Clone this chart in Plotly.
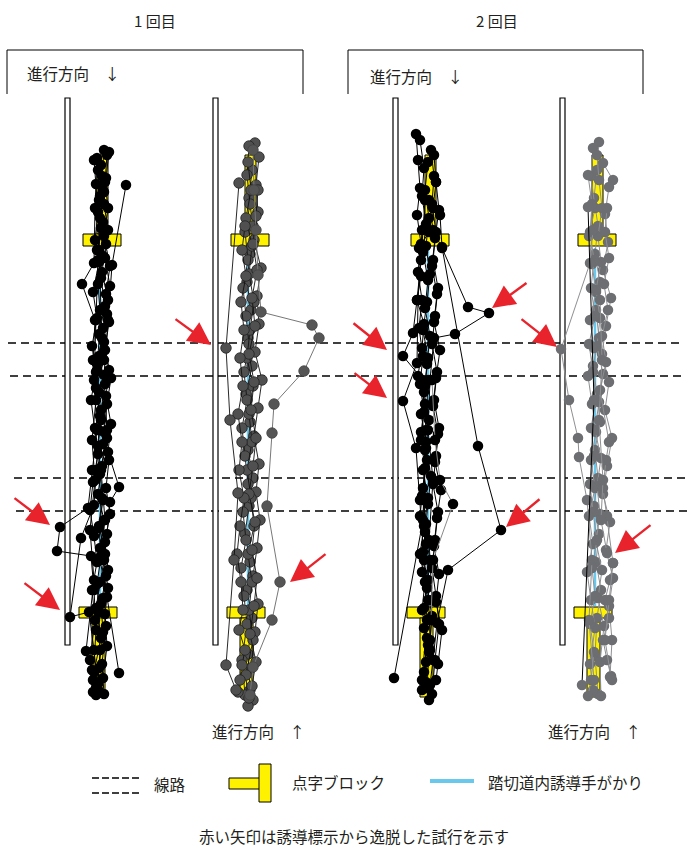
import plotly.graph_objects as go

W, H = 693, 849
FONT = "Noto Sans CJK JP"

# ---------------- data: walking trajectories (lateral offset from block centre, along-track position) -------------
p1a_x = [
    [2, 0, -3, -1, 1, -4, -2, 0, -5, -3, -1, -4, -2, 1, -3, -1, -5, -3, -2, -4],
    [-8, -6, -4, -7, -3, -9, -5, -10, -6, -11, -7, -4, -9, -12, -8, -5, -10, -7, -12, -9],
    [5, 3, 6, 2, 8, 4, 7, 3, 9, 5, 2, 7, 4, 8, 3, 6, 1, 4, 0, 2],
    [-1, 2, -2, 4, 0, 6, 1, -3, 3, -1, 5, 0, -4, 2, -2, 4, -1, 1, -3, -6],
    [-4, -2, 1, -5, -1, 3, -3, 2, -6, -2, 1, -5, 0, -3, 3, -2, -6, -1, -8, -4],
    [7, 4, 2, 6, 3, 8, 5, 2, 7, 4, 9, 6, 17, 8, 5, 2, 6, 3, 5, 1],
    [24, 10, 6, 2, 5, -1, 3, -2, 5, 17],
    [-5, -7, -8, -20, -7, -9, -6, -10, -7, -12, -8, -16, -10, -6],
    [-2, -4, -6, -8, -5, -10, -14, -42, -45, -11, -8, -6, -9],
    [1, -3, -1, -5, -3, -6, -8, -21, -32, -13, -8, -4],
]
p1a_y = [
    [150, 176, 200, 228, 256, 284, 310, 338, 364, 392, 420, 446, 474, 500, 528, 556, 584, 612, 650, 684],
    [160, 184, 212, 240, 262, 292, 318, 346, 372, 400, 428, 454, 482, 510, 536, 562, 590, 620, 660, 692],
    [155, 182, 208, 236, 266, 294, 322, 350, 378, 404, 432, 460, 488, 514, 542, 570, 598, 626, 664, 694],
    [165, 192, 218, 244, 272, 300, 328, 356, 384, 410, 438, 466, 494, 520, 548, 576, 604, 632, 668, 688],
    [170, 196, 222, 250, 278, 306, 334, 360, 388, 416, 444, 470, 498, 526, 554, 582, 608, 638, 672, 690],
    [152, 178, 204, 230, 258, 286, 314, 342, 370, 396, 424, 452, 487, 502, 534, 560, 588, 614, 646, 678],
    [185, 265, 320, 375, 430, 470, 520, 560, 597, 673],
    [158, 208, 263, 284, 320, 360, 400, 440, 480, 530, 580, 651, 670, 695],
    [200, 260, 320, 380, 430, 470, 508, 527, 551, 556, 590, 630, 680],
    [190, 250, 310, 370, 430, 470, 505, 538, 617, 612, 650, 690],
]

p1b_x = [
    [5, 2, -1, 3, 0, -3, 1, -2, 2, -4, 0, -2, 3, -1, -5, 0, -3, 2, -2, 0],
    [-1, -3, 0, -5, -2, -7, -4, -1, -6, -3, -8, -5, -2, -7, -4, -9, -6, -3, -8, -5],
    [9, 6, 8, 4, 11, 7, 9, 5, 12, 8, 4, 9, 6, 10, 7, 3, 8, 5, 1, 3],
    [-2, 1, -4, 2, -1, 4, 0, -3, 3, -1, 2, -3, 1, 4, -2, 2, -1, 3, -4, -2],
    [8, 6, 3, 7, 2, 5, -1, 4, 1, 6, 3, -1, 5, 2, 7, 4, 0, 6, 2, -1],
    [-5, -8, -4, -9, -6, -10, -7, -12, -8, -11, -6, -10, -13, -9, -7, -11, -5, -8, -10, -12],
    [-11, -24, -20, -12, -16, -24, -14],
]
p1b_y = [
    [143, 170, 198, 226, 254, 282, 310, 338, 366, 394, 422, 450, 478, 506, 534, 562, 590, 618, 654, 690],
    [146, 175, 204, 232, 260, 288, 316, 344, 372, 400, 428, 456, 484, 512, 540, 568, 596, 624, 660, 695],
    [157, 185, 212, 240, 268, 296, 324, 352, 380, 408, 436, 464, 492, 520, 548, 576, 604, 632, 668, 700],
    [162, 190, 218, 246, 274, 302, 330, 358, 386, 414, 442, 470, 498, 526, 554, 582, 610, 640, 675, 706],
    [190, 216, 244, 270, 298, 326, 354, 382, 410, 438, 466, 494, 522, 550, 578, 606, 634, 662, 686, 698],
    [226, 250, 276, 302, 330, 358, 386, 414, 442, 470, 498, 526, 554, 582, 610, 630, 650, 665, 680, 692],
    [183, 348, 420, 493, 560, 665, 690],
]
# deviating trial (lighter line)
p1b_dev_x = [3, 4, 6, 8, 11, 62, 69, 54, 24, 22, 17, 30, 22, 3, 0]
p1b_dev_y = [150, 190, 230, 275, 312, 325, 338, 371, 404, 433, 506, 582, 620, 667, 695]

p2a_x = [
    [-14, -12, -10, -13, -9, -12, -8, -11, -7, -10, -6, -9, -5, -8, -4, -7, -3, -6, -2, -4],
    [-10, -6, -8, -4, -7, -2, -5, 0, -3, -6, -1, -4, 1, -2, -5, 0, -3, 2, -1, -3],
    [1, 4, 2, 6, 3, 8, 5, 2, 7, 4, 9, 6, 3, 8, 5, 2, 6, 9, 5, 2],
    [4, 6, 9, 5, 2, 7, 4, 10, 6, 3, 8, 5, 11, 7, 4, 9, 6, 12, 8, 6],
    [-2, -5, -1, -4, 0, -3, -7, -2, -5, -9, -4, -7, -2, -6, -10, -5, -8, -3, -6, -1],
    [6, 3, -1, -11, -9, -13, -6, -8, -12, -5, -9, -3, -7, -10, -4, -8, -2, -6, -4, -8],
    [-1, 3, 12, 38, 59, 25, 4, 0, -2, 3, -1, 2, 0],
    [10, 12, 48, 71, 18, 7, 3, 0],
    [-5, -9, -13, -17, -27, -7, -4, -6, -2, 0],
    [-8, -12, -13, -27, -14, -10, -6, -3, -8],
    [-2, -5, -7, -36],
]
p2a_y = [
    [134, 160, 188, 215, 244, 272, 300, 328, 356, 384, 412, 440, 468, 496, 524, 552, 580, 608, 645, 682],
    [140, 168, 196, 224, 252, 280, 308, 336, 364, 392, 420, 448, 476, 504, 532, 560, 588, 616, 652, 688],
    [150, 176, 204, 232, 260, 288, 316, 344, 372, 400, 428, 456, 484, 512, 540, 568, 596, 624, 660, 694],
    [155, 182, 210, 238, 266, 294, 322, 350, 378, 406, 434, 462, 490, 518, 546, 574, 602, 630, 664, 680],
    [162, 190, 218, 246, 274, 302, 330, 358, 386, 414, 442, 470, 498, 526, 554, 582, 610, 638, 672, 700],
    [182, 208, 232, 248, 276, 300, 324, 348, 376, 404, 432, 460, 488, 516, 544, 572, 600, 628, 662, 690],
    [200, 230, 248, 307, 313, 334, 338, 380, 430, 480, 540, 600, 650],
    [215, 247, 446, 530, 570, 623, 660, 685],
    [200, 260, 300, 333, 356, 380, 430, 500, 580, 640],
    [230, 300, 363, 401, 448, 500, 560, 620, 680],
    [380, 450, 520, 678],
]
# trial drawn with a grey line
p2a_grey_x = [2, 5, 10, 23, 3, 1]
p2a_grey_y = [380, 440, 480, 504, 560, 620]

p2b_x = [
    [2, 0, -3, 1, -2, 3, -1, 2, -4, 0, 3, -2, 1, -3, 2, -1, 4, 0, -2, 1],
    [-4, -6, -2, -8, -5, -1, -7, -3, -9, -5, -1, -6, -2, -8, -4, -10, -6, -2, -7, -4],
    [6, 16, 12, 8, 11, 6, 14, 9, 5, 12, 8, 15, 10, 6, 13, 9, 16, 12, 15, 13],
    [0, 2, 5, 1, 4, -1, 3, 0, 6, 2, -2, 4, 0, 3, -1, 5, 1, 7, 3, 4],
    [-9, -5, -7, -3, -6, -2, -8, -4, -1, -6, -3, -7, -4, 0, -5, -2, -7, -3, -6, -9],
    [10, 8, 12, 7, 11, 5, 9, 3, 12, 9, 6, 10, 16, 13, 8, 12, 6, 10, 14, 15],
    [-4, -7, -36, -28, -19, -18, -10, -5, -8, -3],
    [3, 5, 2, 6, 4, 10, 16, 12, 8, 14],
]
p2b_y = [
    [142, 170, 198, 226, 254, 282, 310, 338, 366, 394, 422, 450, 478, 506, 534, 562, 590, 618, 656, 694],
    [148, 176, 208, 236, 264, 292, 320, 348, 376, 404, 432, 460, 488, 516, 544, 572, 600, 628, 664, 690],
    [163, 180, 187, 214, 242, 270, 298, 326, 354, 382, 410, 438, 466, 494, 522, 550, 578, 606, 640, 677],
    [155, 180, 208, 236, 262, 290, 318, 346, 374, 402, 430, 458, 486, 514, 542, 570, 598, 626, 662, 696],
    [175, 204, 232, 260, 288, 316, 344, 372, 400, 428, 456, 484, 512, 540, 568, 596, 624, 652, 680, 696],
    [208, 232, 258, 284, 310, 336, 362, 390, 442, 460, 488, 516, 563, 580, 600, 618, 640, 660, 676, 680],
    [230, 263, 349, 400, 438, 457, 500, 560, 620, 680],
    [300, 360, 420, 480, 520, 553, 563, 600, 640, 677],
]
# one trial drawn with a black line
p2b_black_x = [-9, -3, -15]
p2b_black_y = [207, 400, 685]

# ---------------- labels ----------------
session_labels = ["1 回目", "2 回目"]
dir_down = "進行方向　↓"
dir_up = "進行方向　↑"
legend_labels = ["線路", "点字ブロック", "踏切道内誘導手がかり"]
note_text = "赤い矢印は誘導標示から逸脱した試行を示す"

# ---------------- layout geometry ----------------
panel_centers = [102, 250, 430, 597]
axis_ids = ["x2", "x3", "x4", "x5"]
HALF = 95

fig = go.Figure()

def add_traj(xa, xs, ys, mcolor, lcolor, mline=None, lw=1.0, size=10.5):
    fig.add_trace(go.Scatter(
        x=xs, y=ys, xaxis=xa, yaxis="y", mode="lines+markers",
        line=dict(color=lcolor, width=lw),
        marker=dict(size=size, color=mcolor,
                    line=dict(color=mline or mcolor, width=0.8 if mline else 0)),
        hoverinfo="skip", showlegend=False, cliponaxis=False))

for xs, ys in zip(p1a_x, p1a_y):
    add_traj("x2", xs, ys, "#000000", "#000000")
for xs, ys in zip(p1b_x, p1b_y):
    add_traj("x3", xs, ys, "#505050", "#111111", mline="#222222", lw=0.9)
add_traj("x3", p1b_dev_x, p1b_dev_y, "#555555", "#777777", mline="#444444", lw=1.0)
for xs, ys in zip(p2a_x, p2a_y):
    add_traj("x4", xs, ys, "#000000", "#000000")
add_traj("x4", p2a_grey_x, p2a_grey_y, "#000000", "#8a8a8a")
for xs, ys in zip(p2b_x, p2b_y):
    add_traj("x5", xs, ys, "#6d6e71", "#8e8f92", lw=1.0)
add_traj("x5", p2b_black_x, p2b_black_y, "#6d6e71", "#000000", lw=1.0)

shapes = []
YELLOW = "#fff200"
for c, xa in zip(panel_centers, axis_ids):
    # wall (fence)
    shapes.append(dict(type="rect", xref=xa, yref="y", x0=-37, x1=-32, y0=98, y1=645,
                       line=dict(color="#000", width=1.2), fillcolor="white", layer="below"))
    # guidance cue in crossing
    shapes.append(dict(type="line", xref=xa, yref="y", x0=-2, x1=-2, y0=248, y1=606,
                       line=dict(color="#6ac8ec", width=2.5), layer="below"))
    # braille blocks
    for (x0, x1, y0, y1) in [(-5, 6, 155, 234), (-19, 19, 234, 246), (-23, 15, 607, 618), (-10, 3, 618, 697)]:
        shapes.append(dict(type="rect", xref=xa, yref="y", x0=x0, x1=x1, y0=y0, y1=y1,
                           line=dict(color="#000", width=1), fillcolor=YELLOW, layer="below"))

# rail lines
for (y, xa0, xa1) in [(343, 8, 683), (376, 10, 684), (478, 14, 690), (511, 16, 690)]:
    shapes.append(dict(type="line", xref="x", yref="y", x0=xa0, x1=xa1, y0=y, y1=y,
                       line=dict(color="#000", width=1.5, dash="8px,5px"), layer="below"))

# header boxes (open at bottom)
for (x0, x1) in [(7, 303), (348, 643)]:
    shapes.append(dict(type="path", xref="x", yref="y",
                       path=f"M {x0},94 L {x0},50 L {x1},50 L {x1},94",
                       line=dict(color="#000", width=1)))

# legend symbols
for y in [778, 793]:
    shapes.append(dict(type="line", xref="x", yref="y", x0=92, x1=140, y0=y, y1=y,
                       line=dict(color="#000", width=1.3, dash="7px,3px")))
shapes.append(dict(type="rect", xref="x", yref="y", x0=229, x1=260, y0=778, y1=789,
                   line=dict(color="#000", width=1), fillcolor=YELLOW))
shapes.append(dict(type="rect", xref="x", yref="y", x0=259, x1=271, y0=764, y1=802,
                   line=dict(color="#000", width=1), fillcolor=YELLOW))
shapes.append(dict(type="line", xref="x", yref="y", x0=430, x1=474, y0=781, y1=781,
                   line=dict(color="#6ac8ec", width=4)))

annotations = []
def txt(x, y, s, anchor="left", size=15.5):
    annotations.append(dict(x=x, y=y, xref="x", yref="y", text=s, showarrow=False,
                            xanchor=anchor, yanchor="middle",
                            font=dict(family=FONT, size=size, color="#231f20")))

txt(155, 20, session_labels[0], "center", 15)
txt(497, 20, session_labels[1], "center", 15)
txt(25, 73, dir_down)
txt(368, 76, dir_down)
txt(210, 731, dir_up)
txt(546, 731, dir_up)
txt(152, 784, legend_labels[0])
txt(290, 782, legend_labels[1])
txt(486, 782, legend_labels[2])
txt(354, 836, note_text, "center")

# red arrows marking trials that left the guidance
arrows = [
    (13, 497, 50, 525), (23, 582, 60, 610),
    (174, 318, 211, 345), (327, 553, 290, 582),
    (528, 282, 492, 308), (352, 322, 387, 350), (353, 372, 387, 398), (541, 498, 506, 527),
    (520, 318, 557, 347), (652, 524, 615, 553),
]
for (tx, ty, hx, hy) in arrows:
    annotations.append(dict(x=hx, y=hy, ax=tx, ay=ty, xref="x", yref="y", axref="x", ayref="y",
                            text="", showarrow=True, arrowhead=2, arrowsize=1.9,
                            arrowwidth=2.4, arrowcolor="#e8232b", standoff=0))

layout = dict(
    width=W, height=H, margin=dict(l=0, r=0, t=0, b=0),
    paper_bgcolor="white", plot_bgcolor="rgba(0,0,0,0)",
    xaxis=dict(range=[0, W], visible=False, domain=[0, 1], fixedrange=True),
    yaxis=dict(range=[H, 0], visible=False, domain=[0, 1], fixedrange=True),
    shapes=shapes, annotations=annotations, showlegend=False,
)
for c, xa in zip(panel_centers, axis_ids):
    key = "xaxis" + xa[1:]
    layout[key] = dict(domain=[(c - HALF) / W, (c + HALF) / W], range=[-HALF, HALF],
                       anchor="y", visible=False, fixedrange=True)
fig.update_layout(**layout)

fig.write_html("out.html", post_script="document.body.style.margin='0';",
               config={"displayModeBar": False})
